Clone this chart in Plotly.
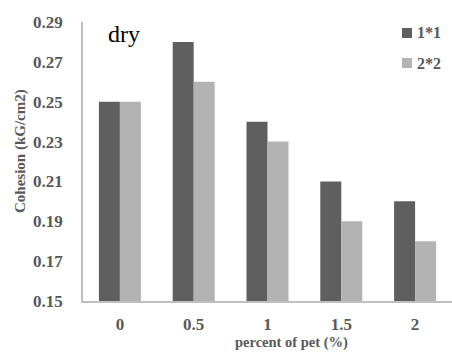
import plotly.graph_objects as go

categories = ["0", "0.5", "1", "1.5", "2"]
series_names = ["1*1", "2*2"]
values_1x1 = [0.25, 0.28, 0.24, 0.21, 0.20]
values_2x2 = [0.25, 0.26, 0.23, 0.19, 0.18]
y_ticks = [0.15, 0.17, 0.19, 0.21, 0.23, 0.25, 0.27, 0.29]
colors = ["#5f5f5f", "#b3b3b3"]

FONT = "Liberation Serif"
TEXT_GRAY = "#595959"


def bold(size):
    return dict(family=FONT, size=size, color=TEXT_GRAY, weight="bold")


fig = go.Figure()
for name, vals, col in zip(series_names, [values_1x1, values_2x2], colors):
    fig.add_trace(go.Bar(
        x=categories, y=vals, name=name,
        marker=dict(color=col, line=dict(width=0)),
        showlegend=False,
    ))

# Legend drawn as small swatches with labels at the upper right
annotations = []
shapes = []
legend_rows = [0.9606, 0.853]
for name, col, yc in zip(series_names, colors, legend_rows):
    shapes.append(dict(
        type="rect", xref="paper", yref="paper",
        x0=0.8645, x1=0.8916, y0=yc - 0.0179, y1=yc + 0.0179,
        fillcolor=col, line=dict(width=0),
    ))
    annotations.append(dict(
        text=name, xref="paper", yref="paper", x=0.8997, y=yc,
        xanchor="left", yanchor="middle", showarrow=False, font=bold(16),
    ))

annotations += [
    dict(text="dry", x=0.062, y=0.958, xref="paper", yref="paper",
         xanchor="left", yanchor="middle", showarrow=False,
         font=dict(family=FONT, size=24, color="black")),
    dict(text="Cohesion (kG/cm2)", x=-0.1707, y=0.5376, xref="paper", yref="paper",
         xanchor="center", yanchor="middle", textangle=-90, showarrow=False,
         font=bold(15)),
    dict(text="percent of pet (%)", x=0.566, y=-0.1505, xref="paper", yref="paper",
         xanchor="center", yanchor="middle", showarrow=False, font=bold(14.5)),
]

fig.update_layout(
    width=452, height=363,
    margin=dict(l=83, r=0, t=22, b=62),
    paper_bgcolor="white", plot_bgcolor="white",
    barmode="group", bargap=0.431, bargroupgap=0,
    font=dict(family=FONT, color=TEXT_GRAY, size=16),
    showlegend=False,
    xaxis=dict(
        type="category", range=[-0.5, 4.5],
        showline=True, linecolor="#c0c0c0", linewidth=1.5,
        ticks="outside", ticklen=7, tickcolor="rgba(0,0,0,0)",
        tickfont=bold(17), showgrid=False,
    ),
    yaxis=dict(
        range=[0.15, 0.29], tickvals=y_ticks,
        ticktext=[f"{v:.2f}" for v in y_ticks],
        showline=True, linecolor="#c0c0c0", linewidth=1.5,
        ticks="outside", ticklen=15, tickcolor="rgba(0,0,0,0)",
        tickfont=bold(17), showgrid=False, zeroline=False,
    ),
    shapes=shapes,
    annotations=annotations,
)

fig.write_html("out.html")
